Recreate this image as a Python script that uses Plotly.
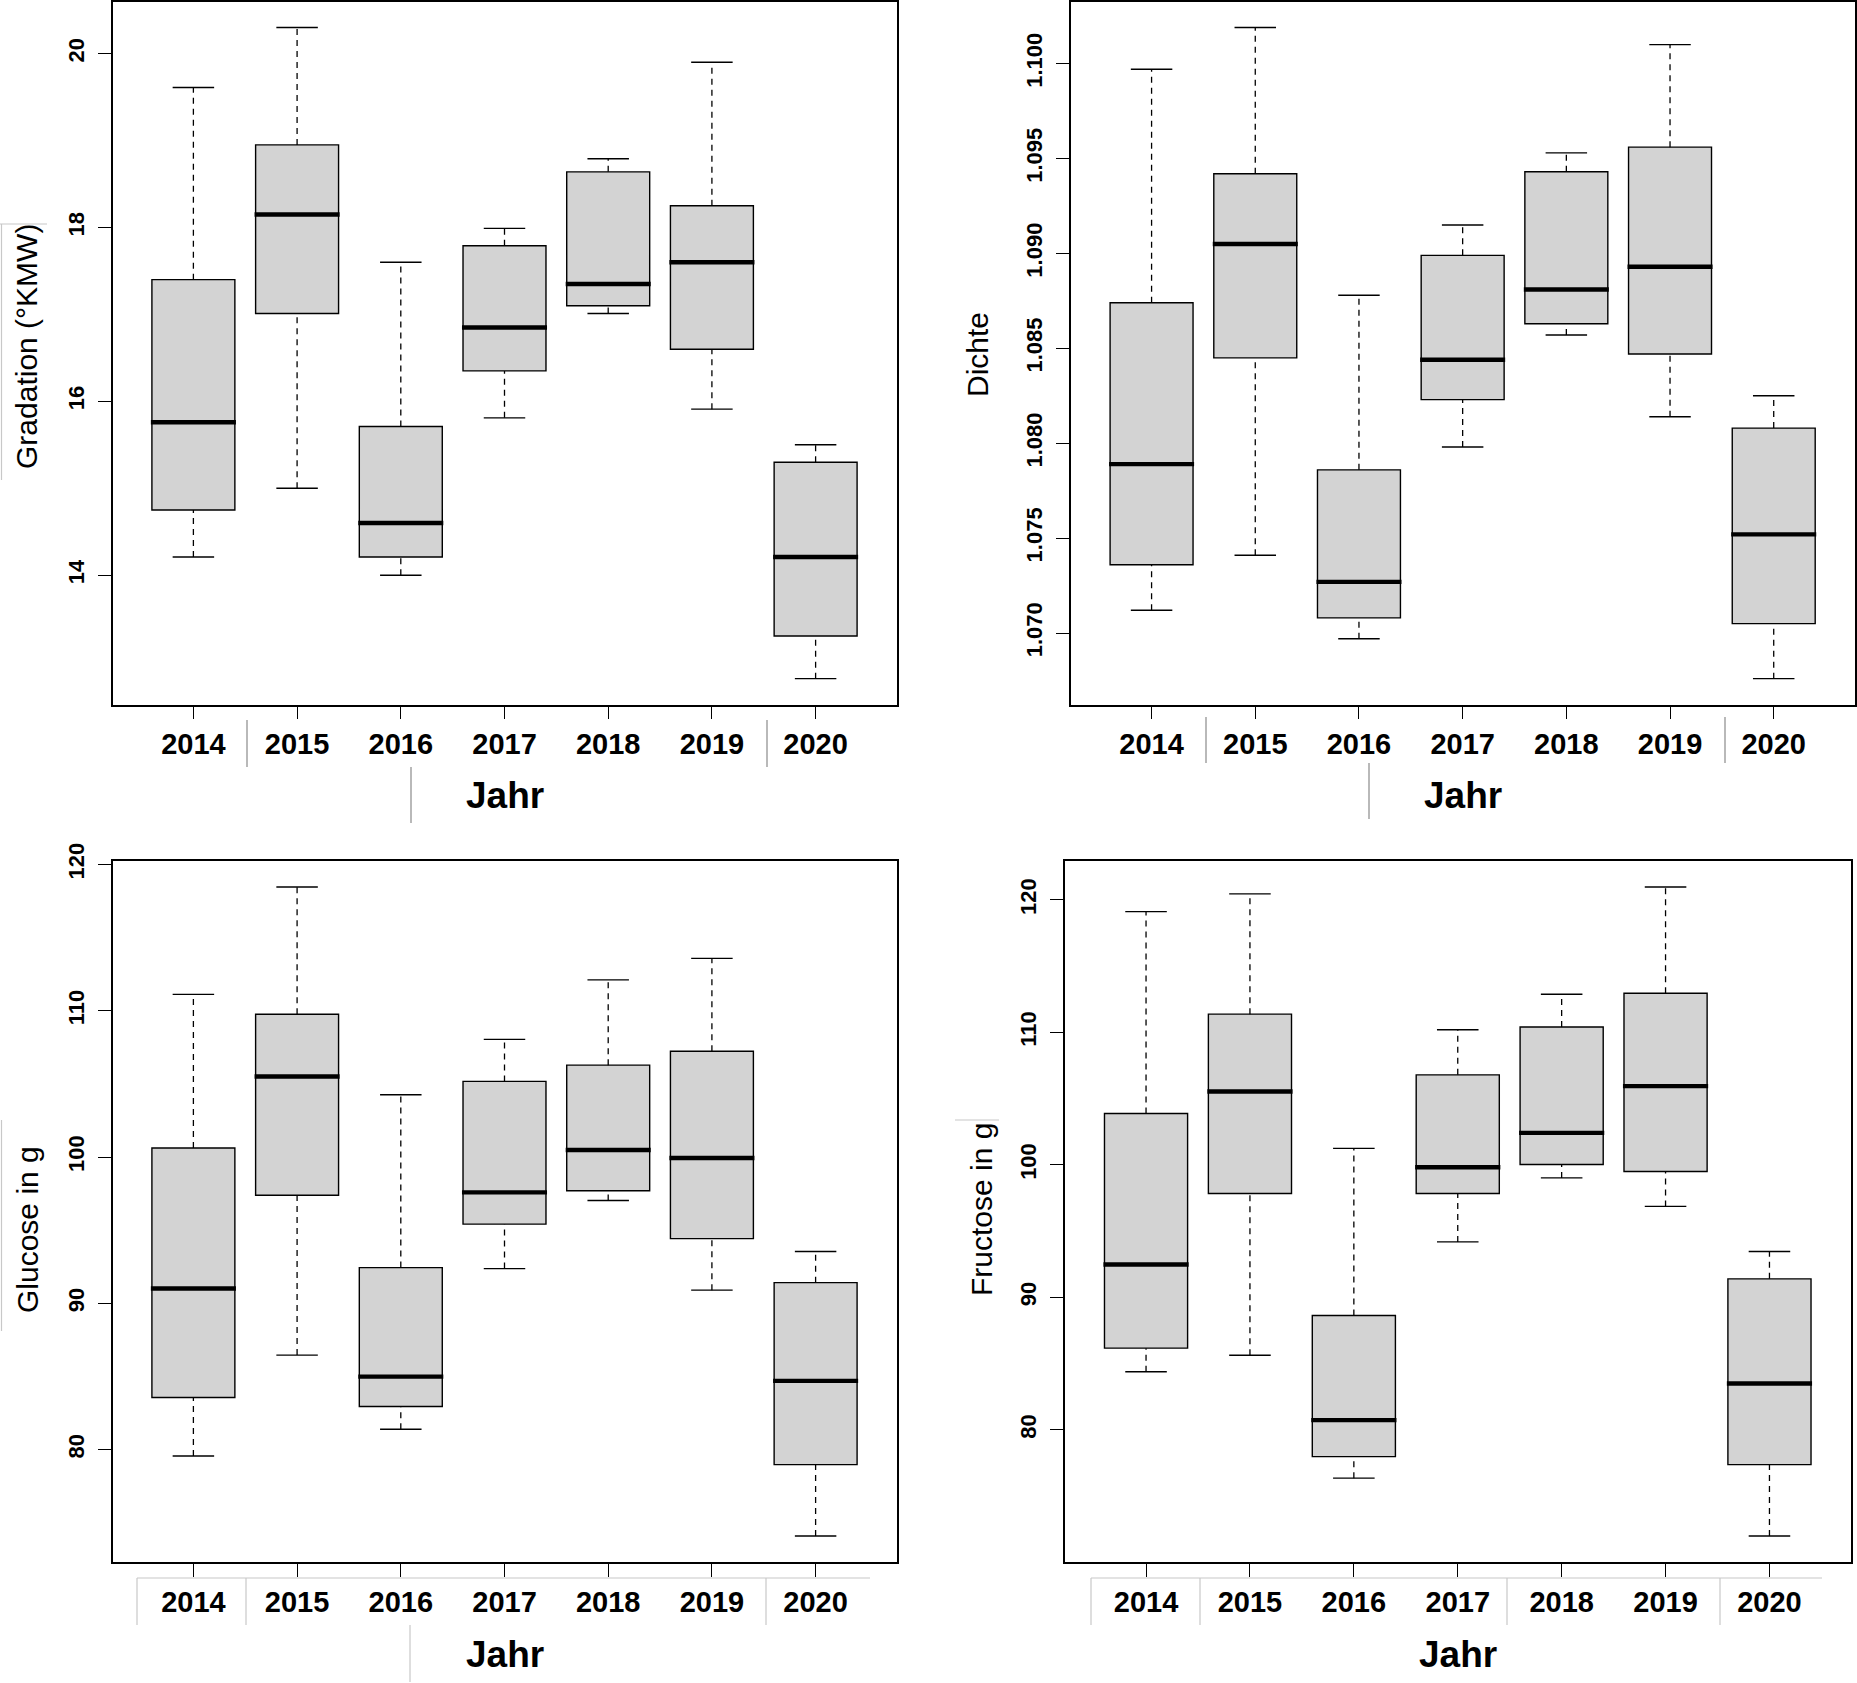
import plotly.graph_objects as go

# ---------------- data ----------------
years = ["2014", "2015", "2016", "2017", "2018", "2019", "2020"]

grad_low = [14.21, 15.00, 14.00, 15.81, 17.01, 15.91, 12.81]
grad_q1 = [14.75, 17.01, 14.21, 16.35, 17.10, 16.60, 13.30]
grad_med = [15.76, 18.15, 14.60, 16.85, 17.35, 17.60, 14.21]
grad_q3 = [17.40, 18.95, 15.71, 17.79, 18.64, 18.25, 15.30]
grad_high = [19.61, 20.30, 17.60, 17.99, 18.79, 19.90, 15.50]
grad_ticks = [14, 16, 18, 20]

dich_low = [1.0712, 1.0741, 1.0697, 1.0798, 1.0857, 1.0814, 1.0676]
dich_q1 = [1.0736, 1.0845, 1.0708, 1.0823, 1.0863, 1.0847, 1.0705]
dich_med = [1.0789, 1.0905, 1.0727, 1.0844, 1.0881, 1.0893, 1.0752]
dich_q3 = [1.0874, 1.0942, 1.0786, 1.0899, 1.0943, 1.0956, 1.0808]
dich_high = [1.0997, 1.1019, 1.0878, 1.0915, 1.0953, 1.1010, 1.0825]
dich_ticks = [1.070, 1.075, 1.080, 1.085, 1.090, 1.095, 1.100]

glu_low = [79.56, 86.46, 81.39, 92.37, 97.03, 90.90, 74.09]
glu_q1 = [83.56, 97.39, 82.94, 95.41, 97.69, 94.42, 78.97]
glu_med = [91.01, 105.50, 84.99, 97.58, 100.48, 99.93, 84.70]
glu_q3 = [100.62, 109.76, 92.44, 105.17, 106.28, 107.23, 91.41]
glu_high = [111.12, 118.46, 104.26, 108.04, 112.11, 113.58, 93.54]
glu_ticks = [80, 90, 100, 110, 120]

fru_low = [84.38, 85.63, 76.35, 94.18, 99.01, 96.86, 71.98]
fru_q1 = [86.16, 97.83, 77.97, 97.83, 100.02, 99.49, 77.37]
fru_med = [92.48, 105.53, 80.73, 99.82, 102.41, 105.94, 83.49]
fru_q3 = [103.87, 111.37, 88.63, 106.79, 110.40, 112.95, 91.39]
fru_high = [119.11, 120.45, 101.24, 110.19, 112.87, 120.97, 93.46]
fru_ticks = [80, 90, 100, 110, 120]

x_title = "Jahr"

# ---------------- layout geometry ----------------
W, H = 1857, 1683
FONT = "Liberation Sans"


def px(x):
    return x / W


def py(y):
    return 1 - y / H


TICKFONT = dict(family=FONT, size=29, color="black", weight="bold")
YTICKFONT = dict(family=FONT, size=22, color="black", weight="bold")
XTITLEFONT = dict(family=FONT, size=37, color="black", weight="bold")

panels = [
    dict(name="Gradation (°KMW)", low=grad_low, q1=grad_q1, med=grad_med, q3=grad_q3,
         high=grad_high, ticks=grad_ticks, fmt="{:g}",
         box=(112.5, 1.5, 896.5, 704.7), ytitle_x=26, ytitle_y=347, xlab_y=795),
    dict(name="Dichte", low=dich_low, q1=dich_q1, med=dich_med, q3=dich_q3,
         high=dich_high, ticks=dich_ticks, fmt="{:.3f}",
         box=(1070.7, 1.5, 1854.6, 704.7), ytitle_x=978, ytitle_y=355, xlab_y=795),
    dict(name="Glucose in g", low=glu_low, q1=glu_q1, med=glu_med, q3=glu_q3,
         high=glu_high, ticks=glu_ticks, fmt="{:g}",
         box=(112.5, 861, 896.5, 1562), ytitle_x=27, ytitle_y=1230, xlab_y=1654),
    dict(name="Fructose in g", low=fru_low, q1=fru_q1, med=fru_med, q3=fru_q3,
         high=fru_high, ticks=fru_ticks, fmt="{:g}",
         box=(1065, 861, 1850.5, 1562), ytitle_x=981, ytitle_y=1210, xlab_y=1654),
]

fig = go.Figure()
pos = list(range(1, len(years) + 1))
BOX_HALF = 0.4
STAPLE_HALF = 0.2
annotations = []
layout_axes = {}

for k, p in enumerate(panels, start=1):
    xa = "x" if k == 1 else f"x{k}"
    ya = "y" if k == 1 else f"y{k}"
    # boxes (whiskers drawn dashed separately, R style)
    fig.add_trace(go.Box(
        x=pos, q1=p["q1"], median=p["med"], q3=p["q3"],
        lowerfence=p["q1"], upperfence=p["q3"],
        width=2 * BOX_HALF, fillcolor="#d3d3d3",
        line=dict(color="black", width=1.4), whiskerwidth=0,
        boxpoints=False, hoverinfo="skip", showlegend=False,
        xaxis=xa, yaxis=ya))
    # dashed whiskers
    wx, wy = [], []
    for i, lo, a, b, hi in zip(pos, p["low"], p["q1"], p["q3"], p["high"]):
        wx += [i, i, None, i, i, None]
        wy += [b, hi, None, lo, a, None]
    fig.add_trace(go.Scatter(x=wx, y=wy, mode="lines",
                             line=dict(color="black", width=1.3, dash="6px,5px"),
                             hoverinfo="skip", showlegend=False, xaxis=xa, yaxis=ya))
    # staples
    sx, sy = [], []
    for i, lo, hi in zip(pos, p["low"], p["high"]):
        sx += [i - STAPLE_HALF, i + STAPLE_HALF, None, i - STAPLE_HALF, i + STAPLE_HALF, None]
        sy += [hi, hi, None, lo, lo, None]
    fig.add_trace(go.Scatter(x=sx, y=sy, mode="lines",
                             line=dict(color="black", width=1.4),
                             hoverinfo="skip", showlegend=False, xaxis=xa, yaxis=ya))
    # thick medians
    mx, my = [], []
    for i, m in zip(pos, p["med"]):
        mx += [i - BOX_HALF - 0.01, i + BOX_HALF + 0.01, None]
        my += [m, m, None]
    fig.add_trace(go.Scatter(x=mx, y=my, mode="lines",
                             line=dict(color="black", width=4.4),
                             hoverinfo="skip", showlegend=False, xaxis=xa, yaxis=ya))

    # R-like axis ranges (4 % extension)
    lo_all, hi_all = min(p["low"]), max(p["high"])
    ext = 0.04 * (hi_all - lo_all)
    n = len(years)
    xext = 0.04 * n
    x0, y0, x1, y1 = p["box"]
    common = dict(showgrid=False, zeroline=False, showline=True, mirror=True,
                  linecolor="black", linewidth=1.5, ticks="outside", ticklen=13,
                  tickwidth=1.4, tickcolor="black", automargin=False)
    layout_axes["xaxis" if k == 1 else f"xaxis{k}"] = dict(
        domain=[px(x0), px(x1)], range=[0.5 - xext, n + 0.5 + xext],
        tickvals=pos, ticktext=years, tickfont=TICKFONT,
        ticklabelstandoff=0, anchor=ya, **common)
    layout_axes["yaxis" if k == 1 else f"yaxis{k}"] = dict(
        domain=[py(y1), py(y0)], range=[lo_all - ext, hi_all + ext],
        tickvals=p["ticks"], ticktext=[p["fmt"].format(t) for t in p["ticks"]],
        tickangle=-90, tickfont=YTICKFONT,
        ticklabelstandoff=5, anchor=xa, **common)

    annotations.append(dict(text=x_title, x=px((x0 + x1) / 2), y=py(p["xlab_y"]),
                            xref="paper", yref="paper", showarrow=False,
                            xanchor="center", yanchor="middle", font=XTITLEFONT))
    annotations.append(dict(text=p["name"], x=px(p["ytitle_x"]), y=py(p["ytitle_y"]),
                            xref="paper", yref="paper", showarrow=False, textangle=-90,
                            xanchor="center", yanchor="middle",
                            font=dict(family=FONT, size=30, color="black")))

# faint editing artefacts visible in the reference (thin grey rules)
dark_rules = [
    (247, 720, 247, 767), (411, 767, 411, 823), (767, 720, 767, 767),
    (1206, 717, 1206, 763), (1369, 763, 1369, 819), (1725, 717, 1725, 763),
]
light_rules = [
    (0, 224, 47, 224), (1.5, 224, 1.5, 480),
    (137, 1578, 870, 1578), (137, 1578, 137, 1625), (246, 1578, 246, 1625),
    (766, 1578, 766, 1625), (410, 1625, 410, 1682),
    (1091, 1578, 1822, 1578), (1091, 1578, 1091, 1625), (1200, 1578, 1200, 1625),
    (1507, 1578, 1507, 1625), (1720, 1578, 1720, 1625),
    (955, 1120, 999, 1120), (1.5, 1120, 1.5, 1331),
]
shapes = []
for (a, b, c, d) in dark_rules:
    shapes.append(dict(type="line", xref="paper", yref="paper", x0=px(a), y0=py(b),
                       x1=px(c), y1=py(d), line=dict(color="#8a8a8a", width=1.2)))
for (a, b, c, d) in light_rules:
    shapes.append(dict(type="line", xref="paper", yref="paper", x0=px(a), y0=py(b),
                       x1=px(c), y1=py(d), line=dict(color="#c8c8c8", width=1.2)))

fig.update_layout(
    width=W, height=H,
    margin=dict(l=0, r=0, t=0, b=0, pad=0, autoexpand=False),
    paper_bgcolor="white", plot_bgcolor="white",
    annotations=annotations, shapes=shapes, showlegend=False,
    **layout_axes)

fig.write_html(
    "out.html", config={"displayModeBar": False},
    post_script=(
        "document.documentElement.style.margin='0';"
        "document.body.style.margin='0';document.body.style.overflow='hidden';"
        "var d=document.getElementById('{plot_id}');"
        "d.style.position='absolute';d.style.top='0px';d.style.left='0px';"
    ))
